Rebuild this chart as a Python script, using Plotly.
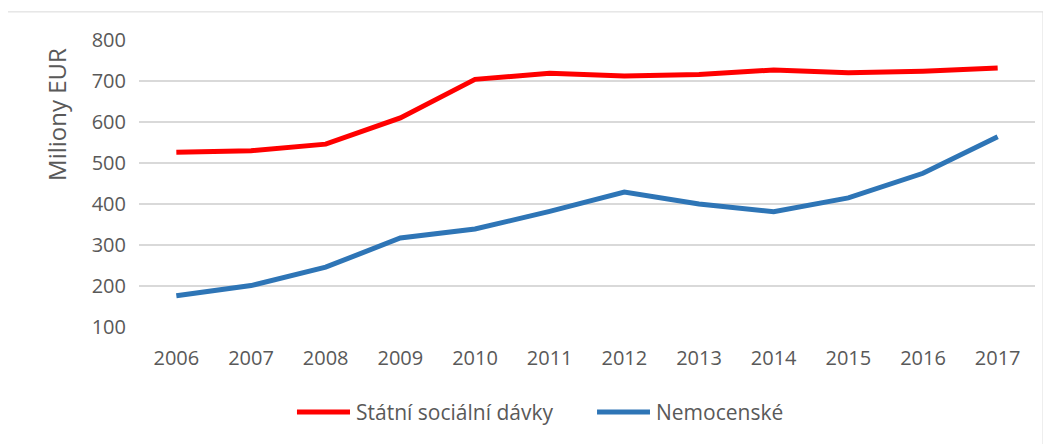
import plotly.graph_objects as go

# data
years = ["2006", "2007", "2008", "2009", "2010", "2011", "2012", "2013", "2014", "2015", "2016", "2017"]
statni_davky = [526, 530, 546, 610, 704, 719, 712, 716, 727, 720, 724, 732]
nemocenske = [176, 201, 246, 317, 339, 382, 429, 400, 381, 415, 475, 564]
y_ticks = [100, 200, 300, 400, 500, 600, 700, 800]

text_col = "#595959"
grid_col = "#d9d9d9"
red = "#ff0000"
blue = "#2e75b6"

fig = go.Figure()
fig.add_trace(go.Scatter(x=years, y=statni_davky, mode="lines", name="Státní sociální dávky",
                         line=dict(color=red, width=5)))
fig.add_trace(go.Scatter(x=years, y=nemocenske, mode="lines", name="Nemocenské",
                         line=dict(color=blue, width=5)))

# y title sits a bit above centre, so use an annotation
fig.add_annotation(text="Miliony EUR", xref="paper", yref="paper", x=-0.0915, y=0.739,
                   xanchor="center", yanchor="middle",
                   textangle=-90, showarrow=False, font=dict(size=24, color=text_col))

# legend drawn by hand, excel style has longer line keys than plotly
leg_y = -0.296
for name, col, x0, x1 in [("Státní sociální dávky", red, 0.1763, 0.2355),
                          ("Nemocenské", blue, 0.5112, 0.5703)]:
    fig.add_shape(type="line", xref="paper", yref="paper", x0=x0, x1=x1, y0=leg_y, y1=leg_y,
                  line=dict(color=col, width=5))
    fig.add_annotation(text=name, xref="paper", yref="paper", x=x1 + 0.004, y=leg_y,
                       xanchor="left", yanchor="middle", showarrow=False,
                       font=dict(size=21, color=text_col))

# outer chart border
fig.add_shape(type="rect", xref="paper", yref="paper", x0=-0.147, x1=1.009, y0=-0.45, y1=1.098,
              line=dict(color=grid_col, width=1))

# page body has an 8px margin, so the figure is a bit smaller than the window
fig.update_layout(
    width=1043, height=436,
    margin=dict(l=131, r=16, t=32, b=117),
    paper_bgcolor="white", plot_bgcolor="white",
    font=dict(family="Open Sans", color=text_col, size=19),
    showlegend=False,
    xaxis=dict(type="category", range=[-0.5, 11.5], showgrid=False, showline=False, ticks="",
               ticklabelstandoff=17, tickfont=dict(size=20, color=text_col)),
    yaxis=dict(range=[100, 800], tickvals=y_ticks, showgrid=True, gridcolor=grid_col, gridwidth=1.5,
               zeroline=False, showline=False, ticks="", ticklabelstandoff=12,
               tickfont=dict(size=20, color=text_col)),
)

fig.write_html("out.html")
